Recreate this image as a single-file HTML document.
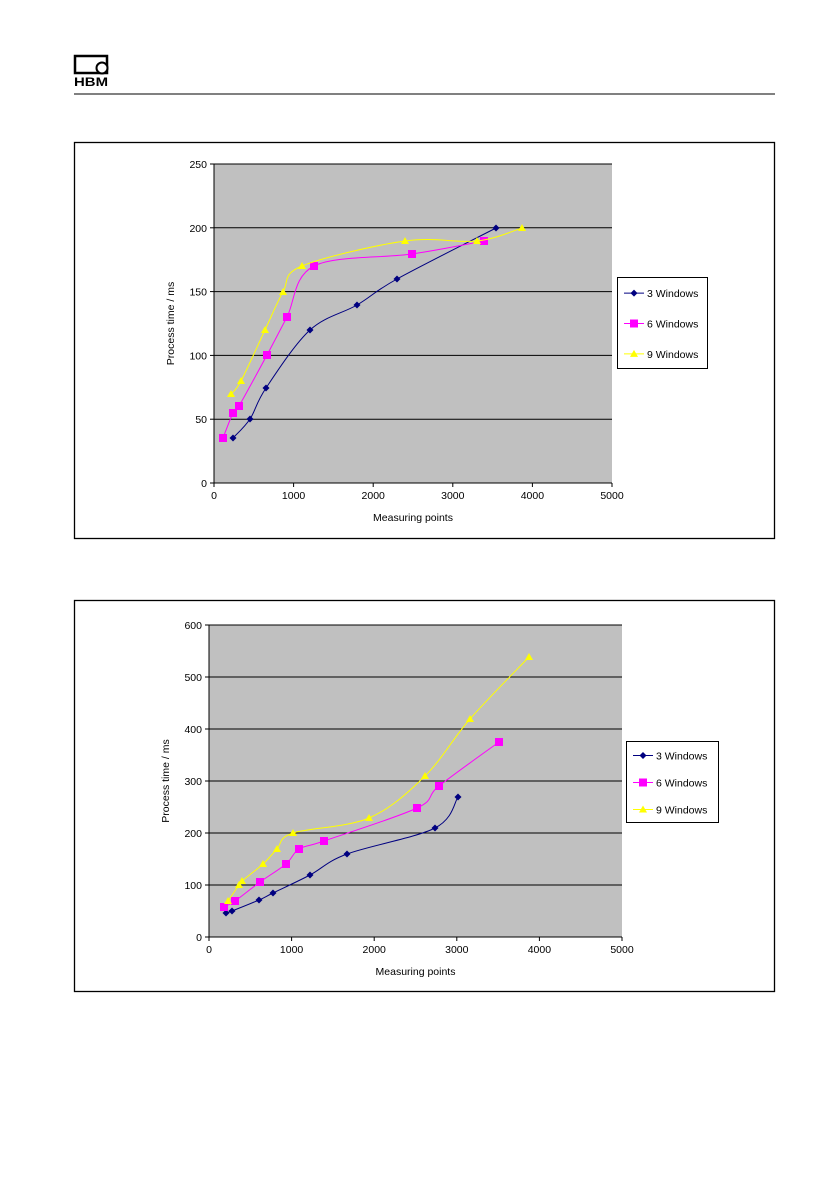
<!DOCTYPE html>
<html><head><meta charset="utf-8"><style>
html,body{margin:0;padding:0;background:#fff;}
svg{display:block;font-family:"Liberation Sans",sans-serif;}
</style></head><body>
<svg id="s" width="839" height="1190" viewBox="0 0 839 1190" xmlns="http://www.w3.org/2000/svg">
<!-- logo -->
<rect x="75" y="56" width="32" height="17" fill="none" stroke="#000" stroke-width="2.5"/>
<circle cx="102" cy="68" r="5.5" fill="#fff" stroke="#000" stroke-width="2"/>
<text x="74" y="86" font-size="12" font-weight="bold" textLength="34" lengthAdjust="spacingAndGlyphs">HBM</text>
<line x1="74" y1="94" x2="775" y2="94" stroke="#000" stroke-width="1"/>
<!-- frames -->
<rect x="74.5" y="142.5" width="700" height="396" fill="none" stroke="#000" stroke-width="1.3"/>
<rect x="74.5" y="600.5" width="700" height="391" fill="none" stroke="#000" stroke-width="1.3"/>
</svg>
<script>
var NS="http://www.w3.org/2000/svg",svg=document.getElementById('s');
function el(t,a,txt){var e=document.createElementNS(NS,t);for(var k in a)e.setAttribute(k,a[k]);if(txt!=null)e.textContent=txt;svg.appendChild(e);return e;}
function cr(p){var d="M"+p[0][0]+","+p[0][1];for(var i=0;i<p.length-1;i++){var p0=p[i-1]||p[i],p1=p[i],p2=p[i+1],p3=p[i+2]||p2;var t=0.5/3;
d+=" C"+(p1[0]+(p2[0]-p0[0])*t)+","+(p1[1]+(p2[1]-p0[1])*t)+" "+(p2[0]-(p3[0]-p1[0])*t)+","+(p2[1]-(p3[1]-p1[1])*t)+" "+p2[0]+","+p2[1];}return d;}
function mark(type,x,y,c){if(type==0)el('polygon',{points:(x)+","+(y-3.5)+" "+(x+3.5)+","+y+" "+x+","+(y+3.5)+" "+(x-3.5)+","+y,fill:c});
else if(type==1)el('rect',{x:x-4,y:y-4,width:8,height:8,fill:c});else el('polygon',{points:x+","+(y-4)+" "+(x+4)+","+(y+3)+" "+(x-4)+","+(y+3),fill:c});}
var cols=["#000080","#ff00ff","#ffff00"],names=["3 Windows","6 Windows","9 Windows"];
function chart(o){
 el('rect',{x:o.x0,y:o.yt,width:o.x1-o.x0,height:o.y0-o.yt,fill:"#c0c0c0"});
 for(var i=0;i<=o.n;i++){var y=o.y0-(o.y0-o.yt)*i/o.n;
  if(i>0)el('line',{x1:o.x0,y1:y,x2:o.x1,y2:y,stroke:"#000","stroke-width":1});
  el('line',{x1:o.x0-4,y1:y,x2:o.x0,y2:y,stroke:"#000"});
  el('text',{x:o.x0-7,y:y+4,"font-size":10.5,"text-anchor":"end"},String(o.step*i));}
 el('line',{x1:o.x0,y1:o.yt,x2:o.x0,y2:o.y0,stroke:"#000"});
 el('line',{x1:o.x0,y1:o.y0,x2:o.x1,y2:o.y0,stroke:"#000"});
 for(var j=0;j<=5;j++){var x=o.x0+(o.x1-o.x0)*j/5;el('line',{x1:x,y1:o.y0,x2:x,y2:o.y0+4,stroke:"#000"});
  el('text',{x:x,y:o.y0+16,"font-size":10.5,"text-anchor":"middle"},String(j*1000));}
 el('text',{x:(o.x0+o.x1)/2,y:o.y0+38,"font-size":10.5,"text-anchor":"middle"},"Measuring points");
 var cy=(o.yt+o.y0)/2;el('text',{x:0,y:0,"font-size":10.5,"text-anchor":"middle",transform:"translate("+(o.x0-40)+","+cy+") rotate(-90)"},"Process time / ms");
 for(var s=0;s<3;s++){el('path',{d:cr(o.d[s]),fill:"none",stroke:cols[s],"stroke-width":1});o.d[s].forEach(function(p){mark(s,p[0],p[1],cols[s]);});}
 var L=o.L;el('rect',{x:L[0]+.5,y:L[1]+.5,width:L[2],height:L[3],fill:"#fff",stroke:"#000"});
 for(var s=0;s<3;s++){var yy=L[1]+L[3]*(s+0.5)/3+1;el('line',{x1:L[0]+7,y1:yy,x2:L[0]+27,y2:yy,stroke:cols[s]});mark(s,L[0]+17,yy,cols[s]);
  el('text',{x:L[0]+30,y:yy+4,"font-size":10.5},names[s]);}
}
chart({x0:214,x1:612,yt:164,y0:483,n:5,step:50,L:[617,277,90,91],d:[
[[233,438],[250,419],[266,388],[310,330],[357,305],[397,279],[496,228]],
[[223,438],[233,413],[239,406],[267,355],[287,317],[314,266],[412,254],[484,241]],
[[231,394],[241,381],[265,330],[283,292],[302,266],[405,241],[477,241],[522,228]]]});
chart({x0:209,x1:622,yt:625,y0:937,n:6,step:100,L:[626,741,92,81],d:[
[[226,913],[232,911],[259,900],[273,893],[310,875],[347,854],[435,828],[458,797]],
[[224,907],[235,901],[260,882],[286,864],[299,849],[324,841],[417,808],[439,786],[499,742]],
[[228,901],[239,885],[242,881],[263,864],[277,849],[293,833],[369,818],[425,776],[470,719],[529,657]]]});
</script>
</body></html>
